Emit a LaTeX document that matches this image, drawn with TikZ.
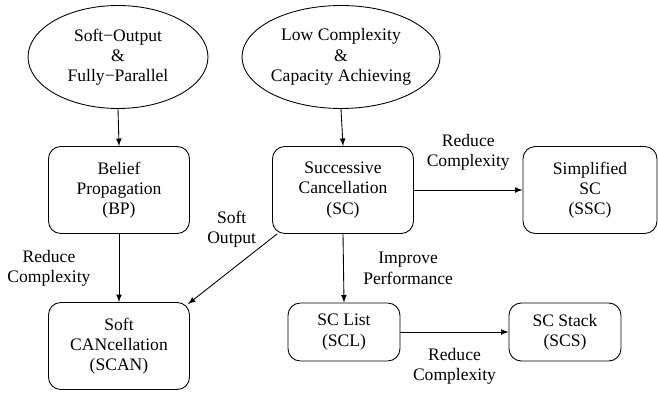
\documentclass[tikz,border=0pt]{standalone}
\usepackage{fontspec}
\setmainfont{Liberation Serif}
\usetikzlibrary{positioning,shapes.geometric,calc}

\begin{document}
\begin{tikzpicture}[
    x=0.02cm, y=-0.02cm,
    box/.style = {
        rectangle,
        draw=black,
        line width=0.5pt,
        rounded corners=7pt,
        minimum width=2.82cm,
        minimum height=1.74cm,
        align=center,
        inner sep=2pt
    },
    smallbox/.style = {box, minimum width=2.24cm, minimum height=1.16cm},
    goal/.style = {
        ellipse,
        draw=black,
        line width=0.5pt,
        minimum width=3.6cm,
        minimum height=2.06cm,
        align=center,
        inner sep=0pt
    },
    arrow/.style = {->, line width=0.5pt, >=latex},
    edgelabel/.style = {align=center, inner sep=1pt},
    font=\fontsize{10}{11.5}\selectfont
]

\useasboundingbox (0,0) rectangle (658,395);

% Row 0: goals
\node[goal] (softgoal) at (118,57) {Soft\textminus Output\\ $\&$\\ Fully\textminus Parallel};
\node[goal] (lowgoal)  at (341,57) {Low Complexity\\ $\&$\\ Capacity Achieving};

% Row 1: decoders
\node[box] (bp)  at (119,190) {Belief\\ Propagation\\ (BP)};
\node[box] (sc)  at (343,190) {Successive\\ Cancellation\\ (SC)};
\node[box, minimum width=2.68cm] (ssc) at (590,190) {Simplified\\ SC\\ (SSC)};

% Row 2
\node[box] (scan) at (119,346) {Soft\\ CANcellation\\ (SCAN)};
\node[smallbox] (scl) at (344,332) {SC List\\ (SCL)};
\node[smallbox] (scs) at (565,332) {SC Stack\\ (SCS)};

% Arrows
\draw[arrow] (softgoal.south) -- (bp.north);
\draw[arrow] (lowgoal.south) -- (sc.north);
\draw[arrow] (sc.east) -- node[edgelabel, above=10pt] {Reduce\\ Complexity} (ssc.west);
\draw[arrow] (bp.south) -- node[edgelabel, left=15pt] {Reduce\\ Complexity} (scan.north);
\draw[arrow] (sc.south) -- node[edgelabel, right=10pt] {Improve\\ Performance} (scl.north);
\draw[arrow] ($(sc.south west)+(5,0)$) -- node[edgelabel, pos=0.25, above left=1pt and -2pt] {Soft\\ Output} ($(scan.north east)+(-2,2)$);
\draw[arrow] (scl.east) -- node[edgelabel, below=8pt] {Reduce\\ Complexity} (scs.west);

\end{tikzpicture}
\end{document}
